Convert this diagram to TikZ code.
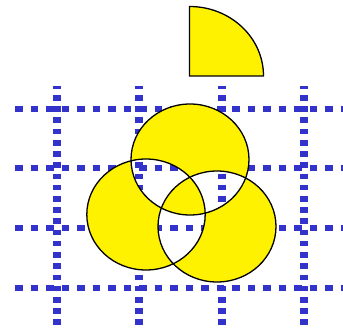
\documentclass[tikz,border=0pt]{standalone}
\definecolor{gridblue}{RGB}{51,51,204}
\tikzset{
  hline/.style={draw=gridblue, line width=5.7pt, dash pattern=on 7.7pt off 7.8pt},
  vline/.style={draw=gridblue, line width=7.7pt, dash pattern=on 5.6pt off 5.62pt, dash phase=2.2pt},
  outline/.style={draw=black, line width=1.3pt},
}
\begin{document}
\begin{tikzpicture}[x=1pt,y=-1pt]
\useasboundingbox (0,0) rectangle (343,329);
\clip (0,0) rectangle (343,329);
% grid
\foreach \y in {109,168,228,288} {\draw[hline] (15,\y) -- (343,\y);}
\foreach \x in {57,139,222,304} {\draw[vline] (\x,86) -- (\x,329);}
% venn (even-odd)
\path[fill=yellow, even odd rule]
  (190,159.5) ellipse [x radius=59pt, y radius=55.5pt]
  (146,214.5) ellipse [x radius=59.2pt, y radius=55.5pt]
  (217,226.5) ellipse [x radius=59pt, y radius=55.5pt];
\draw[outline] (190,159.5) ellipse [x radius=59pt, y radius=55.5pt];
\draw[outline] (146,214.5) ellipse [x radius=59.2pt, y radius=55.5pt];
\draw[outline] (217,226.5) ellipse [x radius=59pt, y radius=55.5pt];
% quarter
\draw[outline, fill=yellow] (189.5,76) -- (189.5,6.5) .. controls (230.4,6.5) and (263.5,37.5) .. (263.5,76) -- cycle;
\end{tikzpicture}
\end{document}
